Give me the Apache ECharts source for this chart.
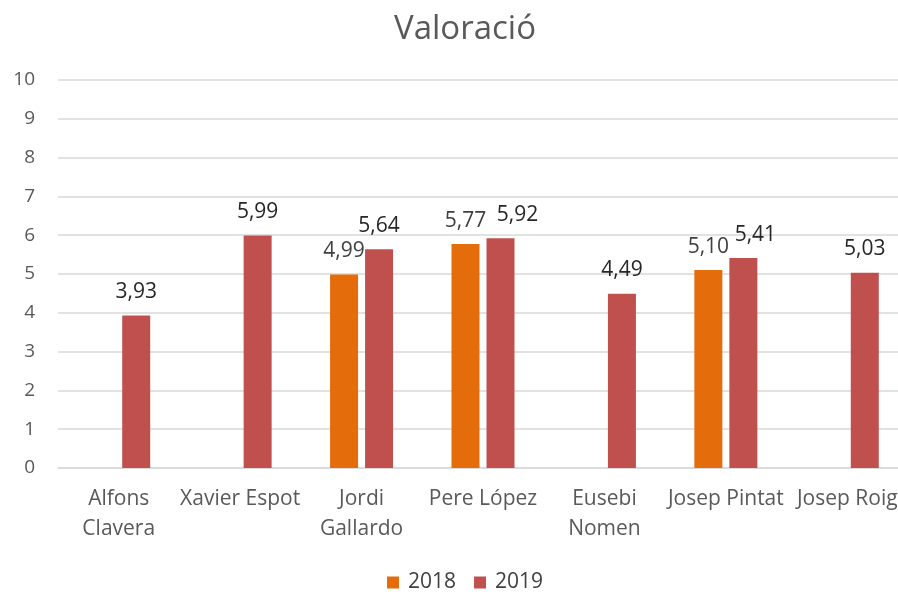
<!DOCTYPE html>
<html>
<head>
<meta charset="utf-8">
<script src="https://cdn.jsdelivr.net/npm/echarts@6/dist/echarts.min.js"></script>
<style>
  html, body { margin: 0; padding: 0; background: #fff; }
  #chart { width: 898px; height: 596px; }
</style>
</head>
<body>
<div id="chart"></div>
<script>
var categories = ['Alfons\nClavera', 'Xavier Espot', 'Jordi\nGallardo', 'Pere López', 'Eusebi\nNomen', 'Josep Pintat', 'Josep Roig'];
var values2018 = [null, null, 4.99, 5.77, null, 5.10, null];
var values2019 = [3.93, 5.99, 5.64, 5.92, 4.49, 5.41, 5.03];

var font = 'Open Sans, Noto Sans, sans-serif';

function fmt(p) {
  return p.value == null ? '' : p.value.toFixed(2).replace('.', ',');
}

// some 2019 labels are nudged right in the original so they clear the 2018 ones
var nudge2019 = { 3: 17, 5: 12 };
var data2019 = values2019.map(function (v, i) {
  if (nudge2019[i]) return { value: v, label: { offset: [nudge2019[i], 0] } };
  return v;
});

var chart = echarts.init(document.getElementById('chart'), null, { renderer: 'canvas' });

var option = {
  backgroundColor: '#ffffff',
  animation: false,
  title: {
    text: 'Valoració',
    left: 460,
    top: 8,
    textAlign: 'center',
    textStyle: { color: '#595959', fontSize: 33, fontWeight: 'normal', fontFamily: font }
  },
  legend: {
    data: ['2018', '2019'],
    left: 382,
    top: 567,
    itemWidth: 12,
    itemHeight: 12,
    itemGap: 18,
    icon: 'rect',
    textStyle: { color: '#404040', fontSize: 21, fontFamily: font, padding: [0, 0, 0, 4] }
  },
  grid: {
    left: 58,
    top: 80,
    width: 850,
    height: 388,
    outerBoundsMode: 'none'
  },
  xAxis: {
    type: 'category',
    data: categories,
    axisLine: { lineStyle: { color: '#d9d9d9', width: 1.5 } },
    axisTick: { show: false },
    axisLabel: {
      color: '#595959',
      fontSize: 21,
      fontFamily: font,
      lineHeight: 30,
      margin: 16,
      interval: 0
    }
  },
  yAxis: {
    type: 'value',
    min: 0,
    max: 10,
    interval: 1,
    axisLine: { show: false },
    axisTick: { show: false },
    axisLabel: { color: '#595959', fontSize: 19, fontFamily: font, margin: 23 },
    splitLine: { lineStyle: { color: '#d9d9d9', width: 1.5 } }
  },
  series: [{
    name: '2018',
    type: 'bar',
    data: values2018,
    barWidth: 28,
    barGap: '25%',
    itemStyle: { color: '#E46C0A' },
    label: { show: true, position: 'top', distance: 13, formatter: fmt, color: '#404040', fontSize: 21, fontFamily: font }
  }, {
    name: '2019',
    type: 'bar',
    data: data2019,
    barWidth: 28,
    barGap: '25%',
    itemStyle: { color: '#C0504D' },
    label: { show: true, position: 'top', distance: 13, formatter: fmt, color: '#262626', fontSize: 21, fontFamily: font }
  }]
};

chart.setOption(option);
</script>
</body>
</html>
